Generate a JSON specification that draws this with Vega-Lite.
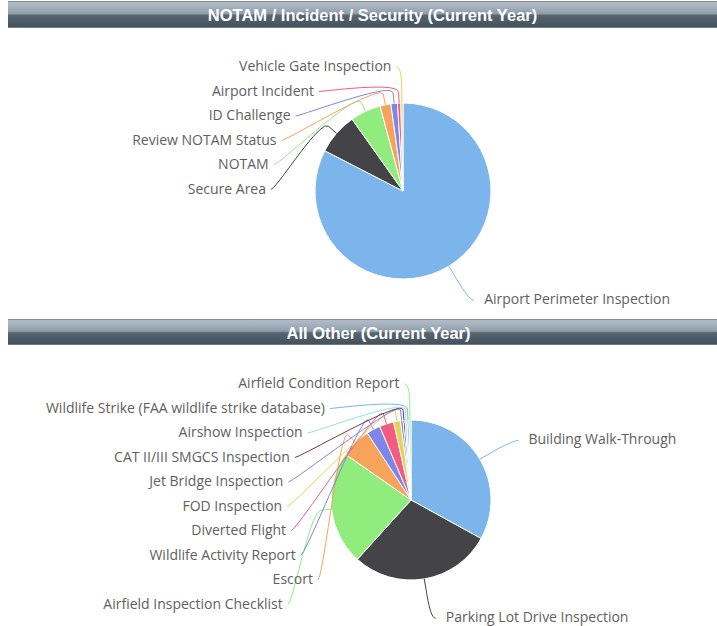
{
  "$schema": "https://vega.github.io/schema/vega-lite/v6.json",
  "padding": {"left": 8, "top": 1, "right": 0, "bottom": 0},
  "spacing": 0,
  "config": {"view": {"stroke": null}},
  "resolve": {"scale": {"color": "independent", "x": "independent", "y": "independent"}},
  "vconcat": [
    {
      "width": 709, "height": 27,
      "view": {"stroke": null, "fill": {"gradient": "linear", "x1": 0, "y1": 0, "x2": 0, "y2": 1, "stops": [{"offset": 0, "color": "#70767e"}, {"offset": 0.06, "color": "#b0bcc7"}, {"offset": 0.47, "color": "#909dab"}, {"offset": 0.53, "color": "#56656f"}, {"offset": 0.95, "color": "#43525d"}, {"offset": 1, "color": "#8a9a9c"}]}},
      "data": {"values": [{"title": "NOTAM / Incident / Security (Current Year)"}]},
      "mark": {"type": "text", "font": "Liberation Sans", "fontWeight": "bold", "fontSize": 16.5, "color": "#ffffff", "dx": 10, "dy": 1.5, "baseline": "middle"},
      "encoding": {"text": {"field": "title", "type": "nominal"}}
    },
    {
      "width": 709, "height": 291,
      "data": {"values": [
        {"name": "Airport Perimeter Inspection", "value": 412},
        {"name": "Secure Area", "value": 38},
        {"name": "NOTAM", "value": 28},
        {"name": "Review NOTAM Status", "value": 10},
        {"name": "ID Challenge", "value": 6},
        {"name": "Airport Incident", "value": 3},
        {"name": "Vehicle Gate Inspection", "value": 2}
      ]},
      "transform": [
        {"window": [{"op": "row_number", "as": "idx"}]},
        {"joinaggregate": [{"op": "sum", "field": "value", "as": "total"}]},
        {"window": [{"op": "sum", "field": "value", "as": "cum"}], "sort": [{"field": "idx", "order": "ascending"}], "frame": [null, 0]},
        {"calculate": "2*PI*datum.cum/datum.total", "as": "a1"},
        {"calculate": "2*PI*(datum.cum-datum.value)/datum.total", "as": "a0"},
        {"calculate": "(datum.a0+datum.a1)/2", "as": "am"},
        {"calculate": "datum.am > PI ? 'left' : 'right'", "as": "side"},
        {"window": [{"op": "row_number", "as": "rk"}], "groupby": ["side"], "sort": [{"field": "am", "order": "descending"}]},
        {"calculate": "127*sin(datum.am)", "as": "nx"},
        {"calculate": "-127*cos(datum.am)", "as": "ny"},
        {"calculate": "datum.side=='left' ? -124+(datum.rk-1)*24.5 : datum.ny+1", "as": "ly"},
        {"calculate": "datum.side=='right' || datum.rk==1 || datum.ly+24.5>127 ? datum.nx : -sqrt(127*127-datum.ly*datum.ly)", "as": "ax"},
        {"calculate": "datum.side=='left' ? -1 : 1", "as": "sg"}
      ],
      "layer": [
        {
          "mark": {"type": "arc", "outerRadius": 88, "stroke": "#ffffff", "strokeWidth": 1},
          "encoding": {
            "x": {"datum": 0, "type": "quantitative", "scale": {"domain": [-395, 314], "nice": false, "zero": false}, "axis": null},
            "y": {"datum": 0, "type": "quantitative", "scale": {"domain": [-163, 128], "reverse": true, "nice": false, "zero": false}, "axis": null},
            "theta": {"field": "a0", "type": "quantitative", "scale": null, "stack": null},
            "theta2": {"field": "a1"},
            "color": {"field": "name", "type": "nominal", "legend": null, "scale": {"domain": ["Airport Perimeter Inspection", "Secure Area", "NOTAM", "Review NOTAM Status", "ID Challenge", "Airport Incident", "Vehicle Gate Inspection"], "range": ["#7cb5ec", "#434348", "#90ed7d", "#f7a35c", "#8085e9", "#f15c80", "#e4d354"]}}
          }
        },
        {
          "transform": [
            {"calculate": "[0,0.1,0.2,0.3,0.4,0.5,0.6,0.7,0.8,0.9,1,2]", "as": "t"},
            {"flatten": ["t"]},
            {"calculate": "datum.t>1 ? 88*sin(datum.am) : pow(1-datum.t,3)*(datum.ax+5*datum.sg) + 3*pow(1-datum.t,2)*datum.t*datum.ax + 3*(1-datum.t)*pow(datum.t,2)*110*sin(datum.am) + pow(datum.t,3)*99*sin(datum.am)", "as": "px"},
            {"calculate": "datum.t>1 ? -88*cos(datum.am) : (pow(1-datum.t,3)+3*pow(1-datum.t,2)*datum.t)*datum.ly - (3*(1-datum.t)*pow(datum.t,2)*110 + pow(datum.t,3)*99)*cos(datum.am)", "as": "py"}
          ],
          "mark": {"type": "line", "strokeWidth": 1},
          "encoding": {
            "x": {"field": "px", "type": "quantitative", "scale": {"domain": [-395, 314], "nice": false, "zero": false}, "axis": null},
            "y": {"field": "py", "type": "quantitative", "scale": {"domain": [-163, 128], "reverse": true, "nice": false, "zero": false}, "axis": null},
            "order": {"field": "t", "type": "quantitative"},
            "detail": {"field": "name", "type": "nominal"},
            "color": {"field": "name", "type": "nominal", "legend": null}
          }
        },
        {
          "transform": [{"filter": "datum.side=='left'"}, {"calculate": "datum.ax-10", "as": "tx"}],
          "mark": {"type": "text", "align": "right", "baseline": "middle", "font": "Open Sans", "fontSize": 14, "color": "#606060"},
          "encoding": {
            "x": {"field": "tx", "type": "quantitative", "scale": {"domain": [-395, 314], "nice": false, "zero": false}, "axis": null},
            "y": {"field": "ly", "type": "quantitative", "scale": {"domain": [-163, 128], "reverse": true, "nice": false, "zero": false}, "axis": null},
            "text": {"field": "name", "type": "nominal"}
          }
        },
        {
          "transform": [{"filter": "datum.side=='right'"}, {"calculate": "datum.ax+15", "as": "tx"}],
          "mark": {"type": "text", "align": "left", "baseline": "middle", "font": "Open Sans", "fontSize": 14, "color": "#606060"},
          "encoding": {
            "x": {"field": "tx", "type": "quantitative", "scale": {"domain": [-395, 314], "nice": false, "zero": false}, "axis": null},
            "y": {"field": "ly", "type": "quantitative", "scale": {"domain": [-163, 128], "reverse": true, "nice": false, "zero": false}, "axis": null},
            "text": {"field": "name", "type": "nominal"}
          }
        }
      ]
    },
    {
      "width": 709, "height": 26,
      "view": {"stroke": null, "fill": {"gradient": "linear", "x1": 0, "y1": 0, "x2": 0, "y2": 1, "stops": [{"offset": 0, "color": "#70767e"}, {"offset": 0.06, "color": "#b0bcc7"}, {"offset": 0.47, "color": "#909dab"}, {"offset": 0.53, "color": "#56656f"}, {"offset": 0.95, "color": "#43525d"}, {"offset": 1, "color": "#8a9a9c"}]}},
      "data": {"values": [{"title": "All Other (Current Year)"}]},
      "mark": {"type": "text", "font": "Liberation Sans", "fontWeight": "bold", "fontSize": 16.5, "color": "#ffffff", "dx": 16, "dy": 1.5, "baseline": "middle"},
      "encoding": {"text": {"field": "title", "type": "nominal"}}
    },
    {
      "width": 709, "height": 281,
      "data": {"values": [
        {"name": "Building Walk-Through", "value": 330},
        {"name": "Parking Lot Drive Inspection", "value": 287},
        {"name": "Airfield Inspection Checklist", "value": 230},
        {"name": "Escort", "value": 61},
        {"name": "Wildlife Activity Report", "value": 28},
        {"name": "Diverted Flight", "value": 29},
        {"name": "FOD Inspection", "value": 14},
        {"name": "Jet Bridge Inspection", "value": 5},
        {"name": "CAT II/III SMGCS Inspection", "value": 4},
        {"name": "Airshow Inspection", "value": 4},
        {"name": "Wildlife Strike (FAA wildlife strike database)", "value": 4},
        {"name": "Airfield Condition Report", "value": 4}
      ]},
      "transform": [
        {"window": [{"op": "row_number", "as": "idx"}]},
        {"joinaggregate": [{"op": "sum", "field": "value", "as": "total"}]},
        {"window": [{"op": "sum", "field": "value", "as": "cum"}], "sort": [{"field": "idx", "order": "ascending"}], "frame": [null, 0]},
        {"calculate": "2*PI*datum.cum/datum.total", "as": "a1"},
        {"calculate": "2*PI*(datum.cum-datum.value)/datum.total", "as": "a0"},
        {"calculate": "(datum.a0+datum.a1)/2", "as": "am"},
        {"calculate": "datum.am > PI ? 'left' : 'right'", "as": "side"},
        {"window": [{"op": "row_number", "as": "rk"}], "groupby": ["side"], "sort": [{"field": "am", "order": "descending"}]},
        {"calculate": "119*sin(datum.am)", "as": "nx"},
        {"calculate": "-119*cos(datum.am)", "as": "ny"},
        {"calculate": "datum.side=='left' ? -116+(datum.rk-1)*24.5 : datum.ny+1", "as": "ly"},
        {"calculate": "datum.side=='right' || datum.rk==1 || datum.ly+24.5>119 ? datum.nx : -sqrt(119*119-datum.ly*datum.ly)", "as": "ax"},
        {"calculate": "datum.side=='left' ? -1 : 1", "as": "sg"}
      ],
      "layer": [
        {
          "mark": {"type": "arc", "outerRadius": 80, "stroke": "#ffffff", "strokeWidth": 1},
          "encoding": {
            "x": {"datum": 0, "type": "quantitative", "scale": {"domain": [-403, 306], "nice": false, "zero": false}, "axis": null},
            "y": {"datum": 0, "type": "quantitative", "scale": {"domain": [-155, 126], "reverse": true, "nice": false, "zero": false}, "axis": null},
            "theta": {"field": "a0", "type": "quantitative", "scale": null, "stack": null},
            "theta2": {"field": "a1"},
            "color": {"field": "name", "type": "nominal", "legend": null, "scale": {"domain": ["Building Walk-Through", "Parking Lot Drive Inspection", "Airfield Inspection Checklist", "Escort", "Wildlife Activity Report", "Diverted Flight", "FOD Inspection", "Jet Bridge Inspection", "CAT II/III SMGCS Inspection", "Airshow Inspection", "Wildlife Strike (FAA wildlife strike database)", "Airfield Condition Report"], "range": ["#7cb5ec", "#434348", "#90ed7d", "#f7a35c", "#8085e9", "#f15c80", "#e4d354", "#8085e9", "#7a3848", "#91e8e1", "#7cb5ec", "#90ed7d"]}}
          }
        },
        {
          "transform": [
            {"calculate": "[0,0.1,0.2,0.3,0.4,0.5,0.6,0.7,0.8,0.9,1,2]", "as": "t"},
            {"flatten": ["t"]},
            {"calculate": "datum.t>1 ? 80*sin(datum.am) : pow(1-datum.t,3)*(datum.ax+5*datum.sg) + 3*pow(1-datum.t,2)*datum.t*datum.ax + 3*(1-datum.t)*pow(datum.t,2)*102*sin(datum.am) + pow(datum.t,3)*91*sin(datum.am)", "as": "px"},
            {"calculate": "datum.t>1 ? -80*cos(datum.am) : (pow(1-datum.t,3)+3*pow(1-datum.t,2)*datum.t)*datum.ly - (3*(1-datum.t)*pow(datum.t,2)*102 + pow(datum.t,3)*91)*cos(datum.am)", "as": "py"}
          ],
          "mark": {"type": "line", "strokeWidth": 1},
          "encoding": {
            "x": {"field": "px", "type": "quantitative", "scale": {"domain": [-403, 306], "nice": false, "zero": false}, "axis": null},
            "y": {"field": "py", "type": "quantitative", "scale": {"domain": [-155, 126], "reverse": true, "nice": false, "zero": false}, "axis": null},
            "order": {"field": "t", "type": "quantitative"},
            "detail": {"field": "name", "type": "nominal"},
            "color": {"field": "name", "type": "nominal", "legend": null}
          }
        },
        {
          "transform": [{"filter": "datum.side=='left'"}, {"calculate": "datum.ax-10", "as": "tx"}],
          "mark": {"type": "text", "align": "right", "baseline": "middle", "font": "Open Sans", "fontSize": 14, "color": "#606060"},
          "encoding": {
            "x": {"field": "tx", "type": "quantitative", "scale": {"domain": [-403, 306], "nice": false, "zero": false}, "axis": null},
            "y": {"field": "ly", "type": "quantitative", "scale": {"domain": [-155, 126], "reverse": true, "nice": false, "zero": false}, "axis": null},
            "text": {"field": "name", "type": "nominal"}
          }
        },
        {
          "transform": [{"filter": "datum.side=='right'"}, {"calculate": "datum.ax+15", "as": "tx"}],
          "mark": {"type": "text", "align": "left", "baseline": "middle", "font": "Open Sans", "fontSize": 14, "color": "#606060"},
          "encoding": {
            "x": {"field": "tx", "type": "quantitative", "scale": {"domain": [-403, 306], "nice": false, "zero": false}, "axis": null},
            "y": {"field": "ly", "type": "quantitative", "scale": {"domain": [-155, 126], "reverse": true, "nice": false, "zero": false}, "axis": null},
            "text": {"field": "name", "type": "nominal"}
          }
        }
      ]
    }
  ]
}
